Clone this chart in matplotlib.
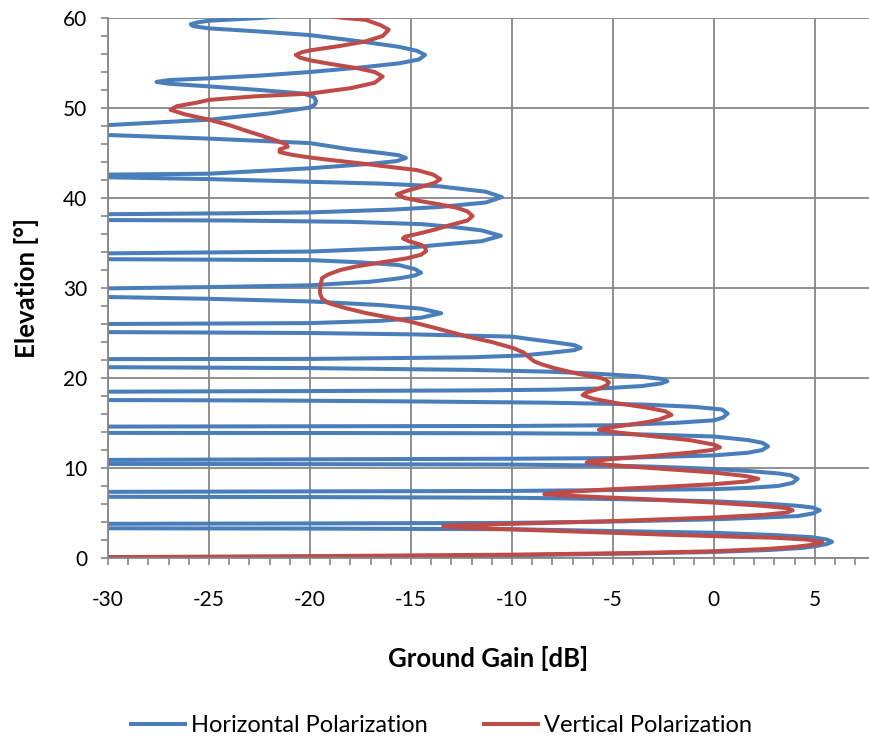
import matplotlib
matplotlib.use("Agg")
import matplotlib.pyplot as plt
import matplotlib.ticker as ticker

plt.rcParams["font.family"] = ["Lato", "DejaVu Sans"]
plt.rcParams["axes.unicode_minus"] = False

# Horizontal polarization: elevation [deg] and ground gain [dB]
# (nulls fall below -30 dB and are clipped by the axis)
h_elev = [
    0.0, 0.07, 0.15, 0.3, 0.5, 0.67, 0.9, 1.12, 1.3, 1.55, 1.8, 2.05, 2.3, 2.55, 2.8, 3.0, 3.2, 3.27, 3.3, 3.55,
    3.8, 3.84, 3.9, 4.05, 4.3, 4.5, 4.66, 4.95, 5.3, 5.6, 5.8, 6.05, 6.3, 6.55, 6.7, 6.77, 6.8, 7.1,
    7.35, 7.4, 7.45, 7.55, 7.65, 7.8, 8.0, 8.35, 8.8, 9.2, 9.4, 9.65, 9.9, 10.15, 10.26, 10.38, 10.43, 10.45, 10.7,
    10.9, 10.97, 11.03, 11.1, 11.4, 11.7, 12.0, 12.4, 12.8, 13.1, 13.5, 13.7, 13.8, 13.86, 13.89, 13.9, 14.25,
    14.6, 14.63, 14.67, 14.75, 15.0, 15.3, 15.6, 16.05, 16.5, 16.8, 17.05, 17.25, 17.4, 17.5, 17.55, 17.95,
    18.48, 18.55, 18.62, 18.7, 18.85, 19.1, 19.4, 19.65, 19.9, 20.2, 20.45, 20.7, 20.9, 21.1, 21.2, 21.65,
    22.1, 22.12, 22.3, 22.5, 22.8, 23.1, 23.35, 23.65, 24.0, 24.35, 24.6, 24.85, 25.0, 25.1, 25.55,
    26.0, 26.05, 26.1, 26.35, 26.7, 27.2, 27.7, 28.1, 28.5, 28.8, 29.0, 29.5,
    29.96, 30.1, 30.3, 30.7, 31.07, 31.4, 31.7, 32.1, 32.55, 32.85, 33.1, 33.15, 33.2, 33.5,
    33.85, 33.95, 34.05, 34.5, 34.8, 35.2, 35.8, 36.4, 36.8, 37.1, 37.35, 37.5, 37.55, 37.85,
    38.2, 38.3, 38.4, 38.7, 39.0, 39.5, 40.1, 40.7, 41.3, 41.6, 41.8, 42.1, 42.3, 42.45,
    42.6, 42.7, 43.3, 43.8, 44.1, 44.45, 44.75, 44.96, 45.4, 46.1, 46.6, 47.0, 47.5,
    48.1, 48.4, 48.7, 49.4, 50.05, 50.4, 50.8, 51.2, 51.6, 52.0, 52.4, 52.7, 52.9, 53.1,
    53.3, 53.6, 54.0, 54.5, 54.96, 55.4, 55.9, 56.35, 56.8, 57.4, 58.1, 58.5, 58.85, 59.1, 59.3, 59.5,
    59.7, 60.0, 60.5,
]
h_gain = [
    -40, -30, -20, -10, -4, 0, 2.8, 4.39, 5.0, 5.6, 5.85, 5.6, 4.9, 3.0, 0, -5, -10, -20, -30, -40,
    -30, -20, -10, -5, 0, 2.5, 4.15, 4.9, 5.24, 4.9, 4.15, 2.5, 0, -5, -10, -20, -30, -40,
    -30, -20, -10, -5, 0, 1.8, 3.17, 3.9, 4.15, 3.8, 3.17, 1.8, 0, -3, -5, -10, -20, -30, -40,
    -30, -20, -10, -5, 0, 1.7, 2.4, 2.68, 2.4, 1.7, 0, -3, -5, -10, -20, -30, -40,
    -30, -20, -10, -5, -2, 0, 0.45, 0.68, 0.4, -1, -3.5, -8, -15, -22, -30, -40,
    -30, -20, -12, -8.1, -5.5, -3.6, -2.6, -2.3, -2.6, -3.8, -5.6, -8.1, -12, -20, -30, -40,
    -30, -20, -12, -9.5, -8.1, -6.9, -6.6, -6.9, -8.0, -9.2, -10, -15, -20, -30, -40,
    -30, -25, -20, -16.5, -14.5, -13.5, -14.5, -16.5, -19.9, -25, -30, -40,
    -30, -25, -20, -17, -15.6, -14.8, -14.5, -14.8, -15.6, -17.5, -20, -25, -30, -40,
    -30, -25, -20, -15, -13.6, -11.5, -10.55, -11.5, -13.0, -14.5, -18, -24, -30, -40,
    -30, -24, -20, -16, -13.6, -11.3, -10.5, -11.3, -13.6, -16.5, -20, -25, -30, -40,
    -30, -25, -20, -17, -15.7, -15.25, -15.6, -16.3, -18, -20, -25, -30, -40,
    -30, -27.5, -25, -22, -20, -19.75, -19.7, -19.8, -20.3, -22.5, -25, -27, -27.6, -27.0,
    -25, -22.5, -20, -17.5, -15.6, -14.6, -14.3, -14.7, -15.6, -17.5, -20, -22.5, -25, -25.8, -25.9, -25.6,
    -25, -22.5, -20,
]

# Vertical polarization
v_elev = [
    0.0, 0.1, 0.2, 0.37, 0.55, 0.75, 1.0, 1.23, 1.5, 1.75, 2.05, 2.25, 2.43, 2.6, 2.8, 3.0, 3.17, 3.35, 3.5,
    3.62, 3.8, 4.1, 4.5, 4.8, 5.05, 5.3, 5.55, 5.8, 6.16, 6.45, 6.7, 6.95, 7.1,
    7.3, 7.65, 7.9, 8.2, 8.5, 8.8, 9.1, 9.5, 9.9, 10.3, 10.6,
    10.8, 11.0, 11.35, 11.7, 12.0, 12.3, 12.6, 13.1, 13.6, 14.0, 14.25,
    14.45, 14.7, 15.1, 15.4, 15.9, 16.3, 16.7, 17.2, 17.7, 18.1,
    18.4, 18.8, 19.2, 19.5, 19.8, 20.0, 20.5, 21.1, 21.5, 21.85, 22.3, 22.8, 23.3, 24.0, 24.6,
    25.5, 26.3, 27.2, 27.8, 28.3, 28.8, 29.4, 30.0, 30.6, 31.1, 31.5, 32.0, 32.4, 32.9, 33.3,
    33.7, 34.1, 34.5, 34.8, 35.2, 35.5, 35.7, 36.0, 36.5, 37.0, 37.5, 38.0, 38.5, 38.9,
    39.3, 39.6, 40.0, 40.4, 40.8, 41.3, 41.7, 42.1, 42.6, 43.1, 43.5, 43.9, 44.2, 44.5,
    44.8, 45.1, 45.4, 45.7, 46.0, 46.4, 47.0, 47.5, 48.1, 48.7, 49.3, 49.8, 50.2, 50.6,
    50.9, 51.3, 51.6, 52.2, 52.8, 53.5, 54.0, 54.4, 54.9, 55.3, 55.6, 55.9, 56.2, 56.4,
    56.9, 57.4, 58.0, 58.7, 59.2, 59.8, 60.0, 60.5,
]
v_gain = [
    -40, -30, -20, -10, -4, 0, 2.6, 4.0, 5.0, 5.37, 4.6, 3.0, 0, -2.5, -5, -7.7, -10, -12.3, -13.4,
    -13.0, -10, -5, 0, 2.5, 3.6, 3.9, 3.6, 2.4, 0, -2.5, -5, -7.5, -8.4,
    -7.6, -5, -2.5, 0, 1.6, 2.2, 1.6, 0, -2.5, -5, -6.3,
    -6.0, -5, -3, -1.2, -0.1, 0.3, 0.0, -1.2, -3.3, -5, -5.7,
    -5.4, -4.5, -3.3, -2.7, -2.1, -2.4, -3.3, -4.8, -6.0, -6.5,
    -6.3, -5.7, -5.3, -5.2, -5.35, -5.6, -6.8, -7.9, -8.5, -8.9, -9.15, -9.4, -9.9, -11.0, -12.2,
    -13.7, -15.1, -17.2, -18.3, -19.05, -19.4, -19.5, -19.5, -19.45, -19.4, -19.1, -18.5, -17.7, -16.3, -15.2,
    -14.5, -14.25, -14.3, -14.5, -15.1, -15.4, -15.3, -14.7, -13.8, -13.05, -12.2, -11.95, -12.2, -12.7,
    -13.6, -14.4, -15.3, -15.7, -15.2, -14.4, -13.8, -13.55, -13.9, -14.7, -16.2, -17.7, -18.9, -20.0,
    -20.9, -21.5, -21.5, -21.1, -21.2, -21.7, -22.5, -23.2, -24.0, -25, -26.2, -26.9, -26.6, -25.6,
    -25, -22.7, -20, -18.0, -16.8, -16.4, -16.8, -17.6, -19.0, -20, -20.5, -20.7, -20.4, -20,
    -18.5, -17.25, -16.4, -16.1, -16.5, -17.25, -18.3, -20,
]

x_ticks = [-30, -25, -20, -15, -10, -5, 0, 5]
y_ticks = [0, 10, 20, 30, 40, 50, 60]

BLUE = "#4A7EBB"
RED = "#BE4B48"
GRID = "#878787"

fig = plt.figure(figsize=(8.69, 7.44), dpi=100)
ax = fig.add_axes([0.1243, 0.25, 0.8757, 0.7258])

ax.plot(h_gain, h_elev, color=BLUE, linewidth=2.9,
        label="Horizontal Polarization", solid_joinstyle="round")
ax.plot(v_gain, v_elev, color=RED, linewidth=2.9,
        label="Vertical Polarization", solid_joinstyle="round")

ax.set_xlim(-30, 7.68)
ax.set_ylim(0, 60)

ax.set_xticks(x_ticks)
ax.set_yticks(y_ticks)
ax.xaxis.set_minor_locator(ticker.MultipleLocator(1))
ax.yaxis.set_minor_locator(ticker.MultipleLocator(2))
ax.tick_params(axis="both", which="both", direction="out", length=5,
               width=1.2, color=GRID, labelsize=15, labelcolor="black")
ax.tick_params(axis="x", pad=18)
ax.tick_params(axis="y", pad=10)

ax.grid(True, which="major", color=GRID, linewidth=1.3)
ax.set_axisbelow(True)
for side in ["top", "right"]:
    ax.spines[side].set_visible(False)
for side in ["left", "bottom"]:
    ax.spines[side].set_color(GRID)
    ax.spines[side].set_linewidth(1.3)

ax.set_xlabel("Ground Gain [dB]", fontsize=18.5, fontweight="bold", labelpad=26)
ax.set_ylabel("Elevation [°]", fontsize=18.5, fontweight="bold", labelpad=17)

fig.legend(loc="lower center", bbox_to_anchor=(0.508, -0.018), ncol=2,
           frameon=False, fontsize=17, handlelength=2.3, handletextpad=0.25,
           columnspacing=2.4)

fig.savefig("out.png", dpi=100)
